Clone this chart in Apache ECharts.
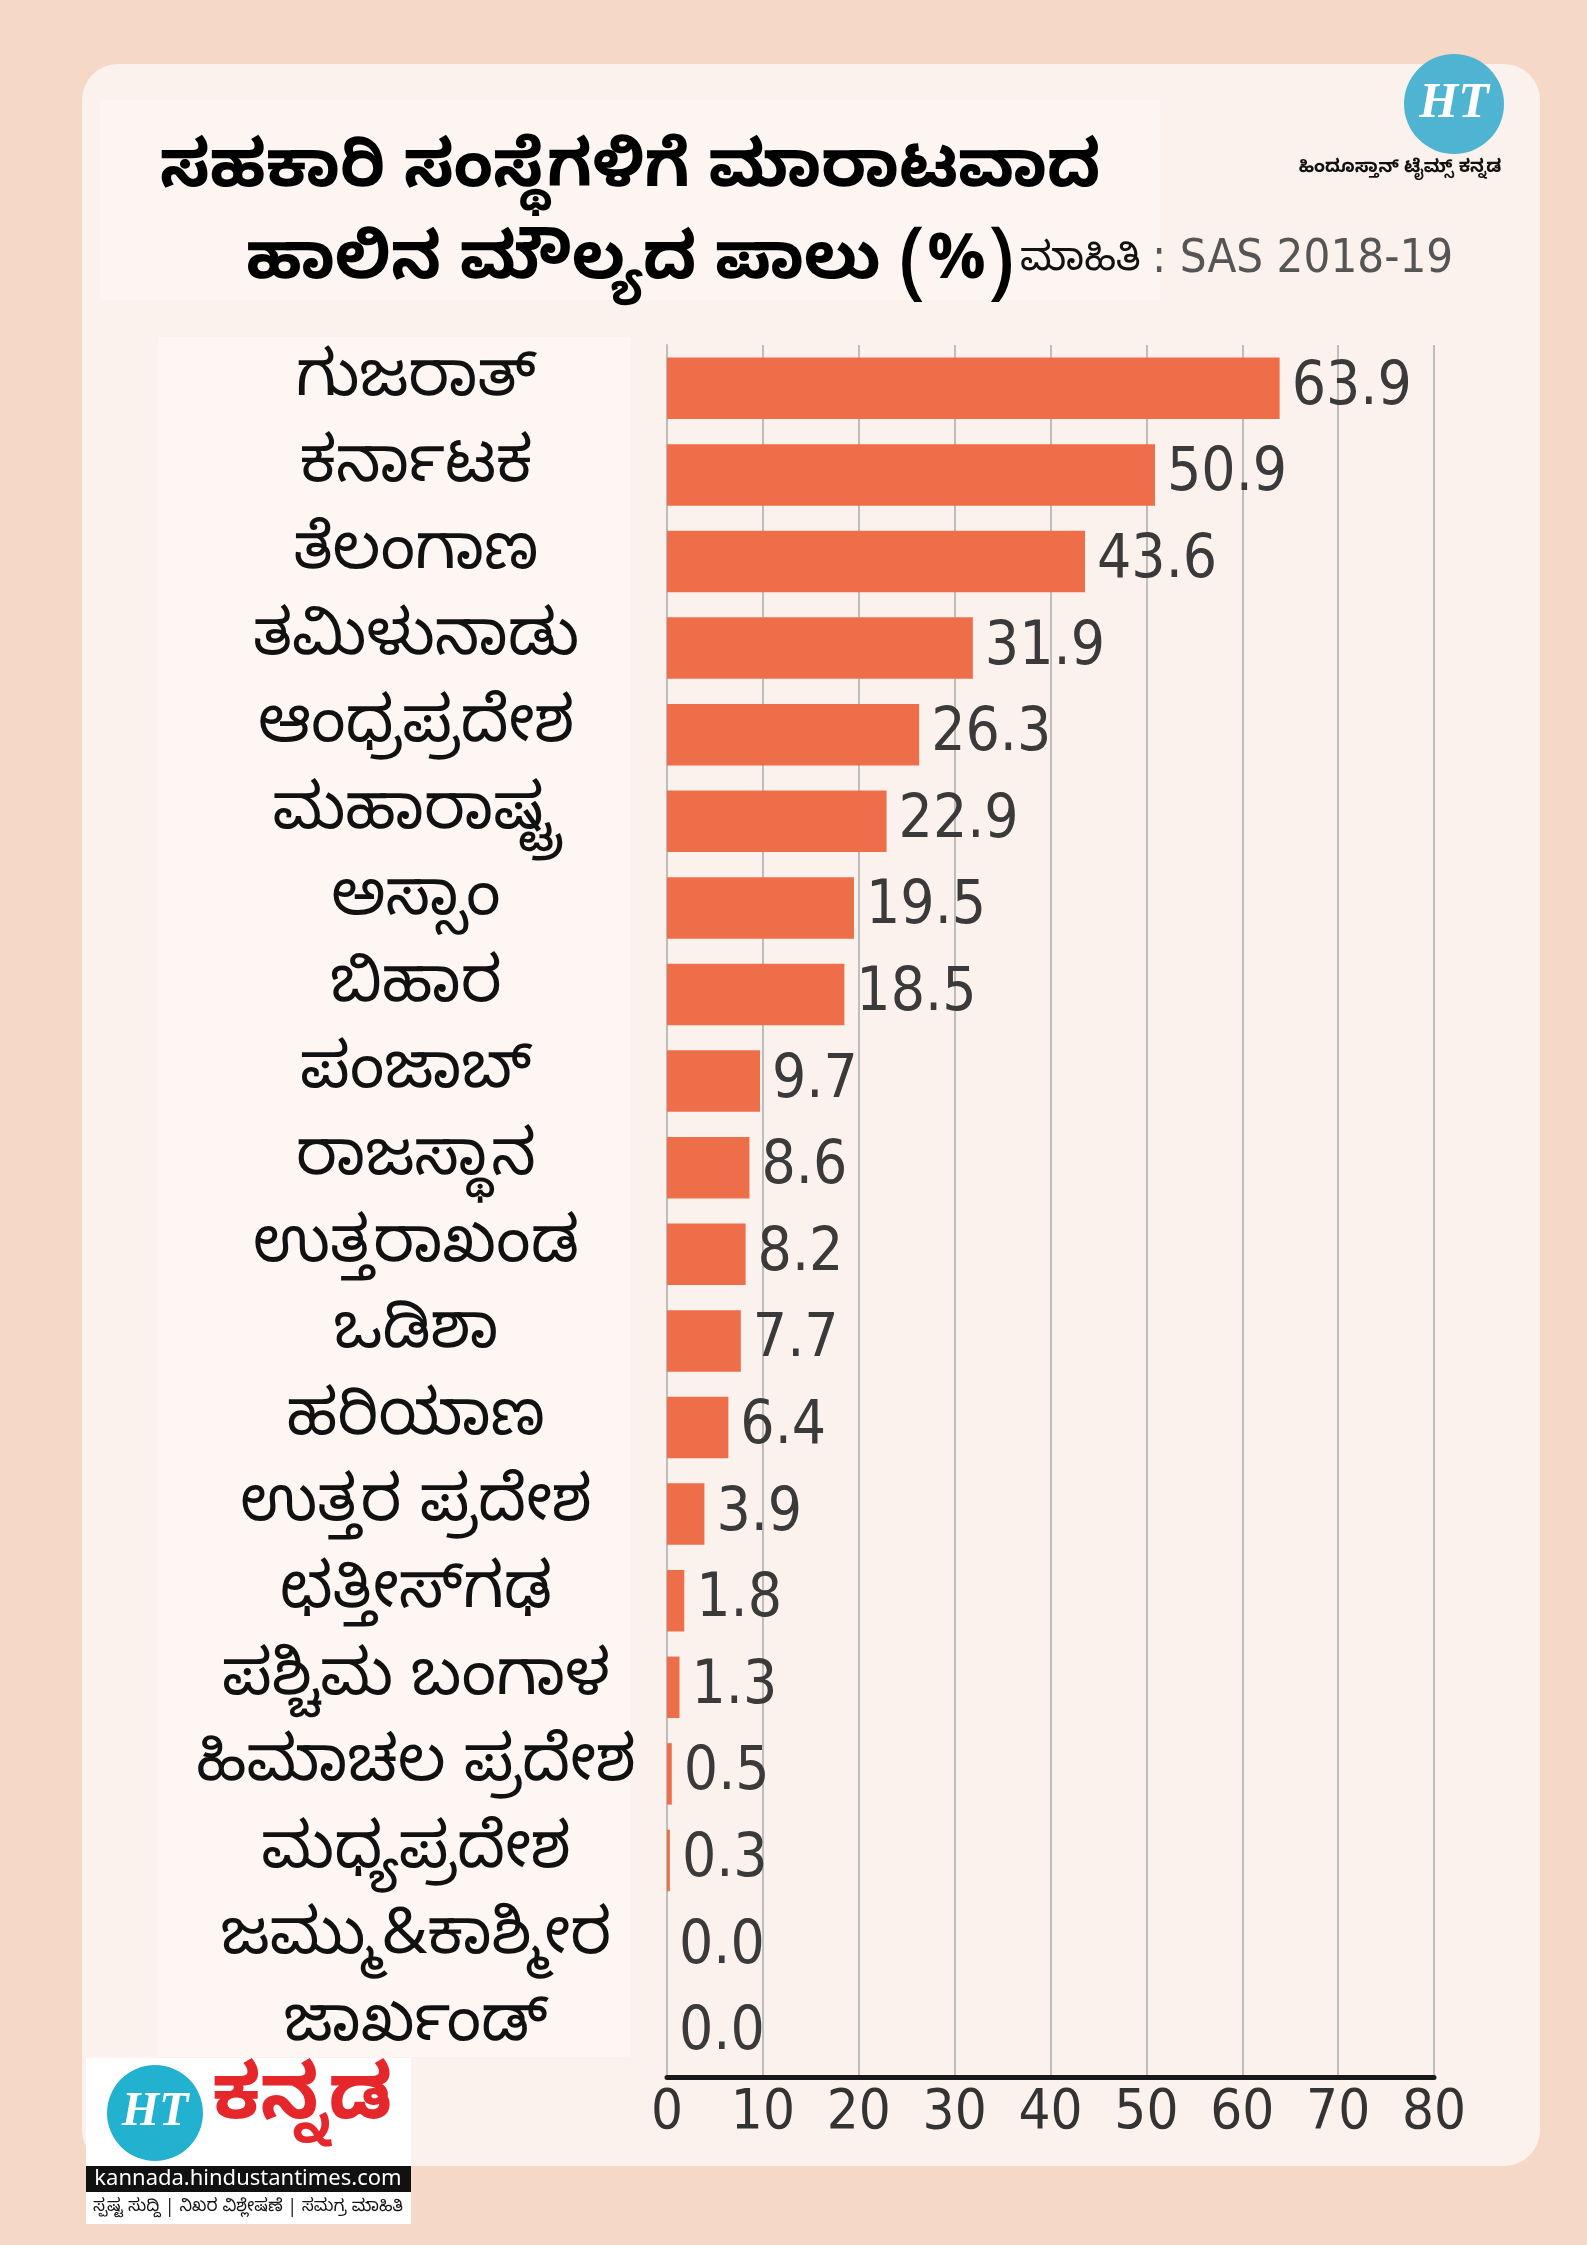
<!DOCTYPE html>
<html><head><meta charset="utf-8">
<script src="https://cdn.jsdelivr.net/npm/echarts@6/dist/echarts.min.js"></script>
<style>html,body{margin:0;padding:0;background:#f6d8c6;}#c{width:1587px;height:2245px;}</style>
</head><body><div id="c"></div>
<script>
const categories = ['ಗುಜರಾತ್','ಕರ್ನಾಟಕ','ತೆಲಂಗಾಣ','ತಮಿಳುನಾಡು','ಆಂಧ್ರಪ್ರದೇಶ','ಮಹಾರಾಷ್ಟ್ರ','ಅಸ್ಸಾಂ','ಬಿಹಾರ','ಪಂಜಾಬ್','ರಾಜಸ್ಥಾನ','ಉತ್ತರಾಖಂಡ','ಒಡಿಶಾ','ಹರಿಯಾಣ','ಉತ್ತರ ಪ್ರದೇಶ','ಛತ್ತೀಸ್‌ಗಢ','ಪಶ್ಚಿಮ ಬಂಗಾಳ','ಹಿಮಾಚಲ ಪ್ರದೇಶ','ಮಧ್ಯಪ್ರದೇಶ','ಜಮ್ಮು&ಕಾಶ್ಮೀರ','ಜಾರ್ಖಂಡ್'];
const shareValues = [63.9,50.9,43.6,31.9,26.3,22.9,19.5,18.5,9.7,8.6,8.2,7.7,6.4,3.9,1.8,1.3,0.5,0.3,0.0,0.0];
const xTicks = [0,10,20,30,40,50,60,70,80];
const titleLine1 = 'ಸಹಕಾರಿ ಸಂಸ್ಥೆಗಳಿಗೆ ಮಾರಾಟವಾದ';
const titleLine2 = 'ಹಾಲಿನ ಮೌಲ್ಯದ ಪಾಲು (%)';
const sourceLabel = 'ಮಾಹಿತಿ';
const sourceText = ': SAS 2018-19';

const KN = '"Noto Sans Kannada","Noto Sans",sans-serif';
const NARROW = '"Liberation Sans Narrow","DejaVu Sans Condensed",sans-serif';

const chart = echarts.init(document.getElementById('c'), null, {renderer:'canvas'});
chart.setOption({
  backgroundColor: '#f6d8c6',
  animation: false,
  grid: {left: 667, right: 153, top: 345, bottom: 168, containLabel: false},
  xAxis: {
    type: 'value', min: 0, max: 80, interval: 10,
    axisLine: {show: true, onZero: false, lineStyle: {color: '#1a1a1a', width: 5}},
    axisTick: {show: false},
    splitLine: {show: true, lineStyle: {color: '#bdbdbd', width: 2}},
    axisLabel: {fontFamily: NARROW, fontSize: 56, color: '#333', margin: 8,
      formatter: v => xTicks.includes(v) ? String(v) : ''}
  },
  yAxis: {
    type: 'category', inverse: true, data: categories,
    axisLine: {show: true, lineStyle: {color: '#bdbdbd', width: 2}},
    axisTick: {show: false},
    axisLabel: {fontFamily: KN, fontSize: 63, color: '#111', align: 'center', margin: 251}
  },
  series: [{
    type: 'bar', data: shareValues, barCategoryGap: '29%',
    itemStyle: {color: '#ef6e4a'},
    label: {show: true, position: 'right', distance: 12, fontFamily: NARROW, fontSize: 60,
      color: '#3a3a3a', formatter: p => p.value.toFixed(1)}
  }],
  graphic: [
    {type: 'rect', z: -10, shape: {x: 82, y: 64, width: 1458, height: 2102, r: 36}, style: {fill: '#fcf2ed'}},
    {type: 'rect', z: -9, shape: {x: 100, y: 100, width: 1060, height: 200}, style: {fill: '#fdf5f1'}},
    {type: 'rect', z: -9, shape: {x: 158, y: 337, width: 472, height: 1720}, style: {fill: '#fdf6f2'}},
    {type: 'text', x: 630, y: 180, style: {text: titleLine1, font: 'bold 65px ' + KN, fill: '#000', textAlign: 'center', textVerticalAlign: 'middle'}},
    {type: 'text', x: 630, y: 272, style: {text: titleLine2, font: 'bold 65px ' + KN, fill: '#000', textAlign: 'center', textVerticalAlign: 'middle'}},
    {type: 'text', x: 1020, y: 266, style: {text: sourceLabel, font: '40px ' + KN, fill: '#111', textAlign: 'left', textVerticalAlign: 'middle'}},
    {type: 'text', x: 1152, y: 260, style: {text: sourceText, font: '47px ' + NARROW, fill: '#555', textAlign: 'left', textVerticalAlign: 'middle'}},
    // top-right HT logo
    {type: 'circle', shape: {cx: 1454, cy: 104, r: 50}, style: {fill: '#4fb3d2'}},
    {type: 'text', x: 1454, y: 104, style: {text: 'HT', font: 'italic bold 50px "Liberation Serif",serif', fill: '#fff', textAlign: 'center', textVerticalAlign: 'middle'}},
    {type: 'text', x: 1400, y: 170, style: {text: 'ಹಿಂದೂಸ್ತಾನ್ ಟೈಮ್ಸ್ ಕನ್ನಡ', font: 'bold 18px ' + KN, fill: '#111', textAlign: 'center', textVerticalAlign: 'middle'}},
    // bottom-left logo
    {type: 'rect', shape: {x: 86, y: 2058, width: 325, height: 166}, style: {fill: '#fff'}},
    {type: 'circle', shape: {cx: 155, cy: 2113, r: 48}, style: {fill: '#22b1cf'}},
    {type: 'text', x: 155, y: 2113, style: {text: 'HT', font: 'italic bold 48px "Liberation Serif",serif', fill: '#fff', textAlign: 'center', textVerticalAlign: 'middle'}},
    {type: 'text', x: 302, y: 2110, style: {text: 'ಕನ್ನಡ', font: 'bold 76px ' + KN, fill: '#e5262b', textAlign: 'center', textVerticalAlign: 'middle'}},
    {type: 'rect', shape: {x: 86, y: 2166, width: 325, height: 26}, style: {fill: '#111'}},
    {type: 'text', x: 248, y: 2179, style: {text: 'kannada.hindustantimes.com', font: '22px "Noto Sans",sans-serif', fill: '#fff', textAlign: 'center', textVerticalAlign: 'middle'}},
    {type: 'text', x: 248, y: 2209, style: {text: 'ಸ್ಪಷ್ಟ ಸುದ್ದಿ | ನಿಖರ ವಿಶ್ಲೇಷಣೆ | ಸಮಗ್ರ ಮಾಹಿತಿ', font: '17px ' + KN, fill: '#111', textAlign: 'center', textVerticalAlign: 'middle'}}
  ]
});
</script></body></html>
